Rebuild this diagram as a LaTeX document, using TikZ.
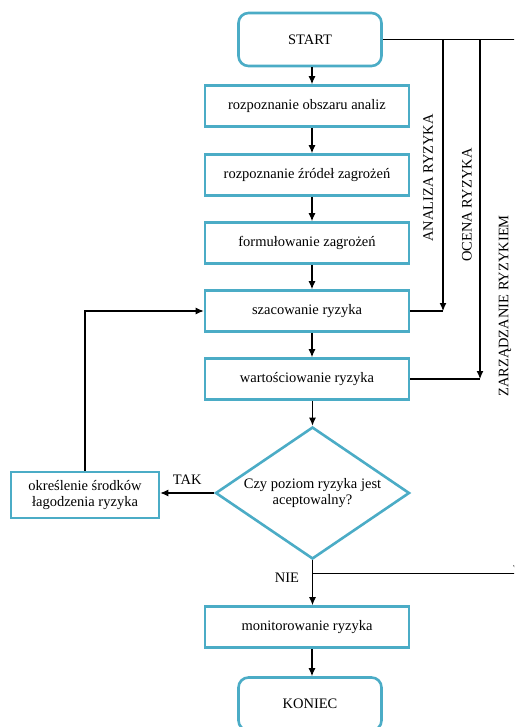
\documentclass[tikz,border=0pt]{standalone}
\usepackage{fontspec}
\setmainfont{Liberation Serif}
\usetikzlibrary{arrows.meta,positioning,shapes.geometric}
\definecolor{ramka}{RGB}{75,172,198}

\begin{document}
\begin{tikzpicture}[x=1pt,y=-1pt,
    blok/.style={draw=ramka, line width=2.6pt, fill=white, minimum width=204pt, minimum height=41pt, inner sep=2pt, font=\fontsize{14.5}{16}\selectfont},
    term/.style={blok, rounded corners=10pt, minimum width=143pt, minimum height=53pt},
    romb/.style={blok, diamond, aspect=1.47, minimum width=194pt, minimum height=132pt, inner sep=0pt, align=center},
    strz/.style={line width=1.1pt, -{Latex[length=8pt,width=7pt]}},
    linia/.style={line width=1.1pt},
    opis/.style={font=\fontsize{14.5}{16}\selectfont}]
        \useasboundingbox (0,0) rectangle (514,727);
        \clip (0,0) rectangle (514,727);
        % bloki glowne
        \node[term] (start) at (310,39.5) {START};
        \node[blok] (rozp) at (307,106) {rozpoznanie obszaru analiz};
        \node[blok] (zrodla) at (307,175) {rozpoznanie źródeł zagrożeń};
        \node[blok] (formul) at (307,243) {formułowanie zagrożeń};
        \node[blok] (szac) at (307,311) {szacowanie ryzyka};
        \node[blok] (wart) at (307,379) {wartościowanie ryzyka};
        \node[romb] (pytanie) at (312.5,493) {Czy poziom ryzyka jest\\aceptowalny?};
        \node[blok, minimum width=148pt, minimum height=46pt, align=center] (srodki) at (85,495) {określenie środków\\łagodzenia ryzyka};
        \node[blok] (monit) at (307,627) {monitorowanie ryzyka};
        \node[term] (koniec) at (310,704) {KONIEC};
        % strzalki w pionie
        \draw[strz] (start.south -| 312,0) -- (rozp.north -| 312,0);
        \draw[strz] (rozp.south -| 312,0) -- (zrodla.north -| 312,0);
        \draw[strz] (zrodla.south -| 312,0) -- (formul.north -| 312,0);
        \draw[strz] (formul.south -| 312,0) -- (szac.north -| 312,0);
        \draw[strz] (szac.south -| 312,0) -- (wart.north -| 312,0);
        \draw[strz] (wart.south -| pytanie.north) -- (pytanie.north);
        \draw[strz] (pytanie.south) -- (pytanie.south |- monit.north);
        \draw[strz] (monit.south -| 312,0) -- (koniec.north -| 312,0);
        % TAK i petla zwrotna
        \draw[strz] (pytanie.west) -- node[above=5pt, opis] (lTak) {TAK} (pytanie.west -| srodki.east);
        \draw[strz] (srodki.north) |- (szac.west);
        % NIE
        \coordinate (nie) at ([yshift=-13pt]pytanie.south);
        \node[opis] (lNie) at (287,578) {NIE};
        % osie po prawej
        \coordinate (osA) at (443,0);
        \coordinate (osO) at (480,0);
        \coordinate (osZ) at (516.5,0);
        \draw[linia] (start.east) -- ([xshift=10pt]start.east -| osZ);
        \draw[strz] (start.east -| osA) -- (szac.east -| osA);
        \draw[linia] (szac.east) -- (szac.east -| osA);
        \draw[strz] (start.east -| osO) -- (wart.east -| osO);
        \draw[linia] (wart.east) -- (wart.east -| osO);
        \draw[strz] (start.east -| osZ) -- (nie -| osZ);
        \draw[linia] (nie) -- (nie -| osZ);
        % opisy osi
        \node[opis, rotate=90] (lAnaliza) at (428,178) {ANALIZA RYZYKA};
        \node[opis, rotate=90] (lOcena) at (467,205) {OCENA RYZYKA};
        \node[opis, rotate=90] (lZarz) at (505,306) {ZARZĄDZANIE RYZYKIEM};
\end{tikzpicture}
\end{document}
